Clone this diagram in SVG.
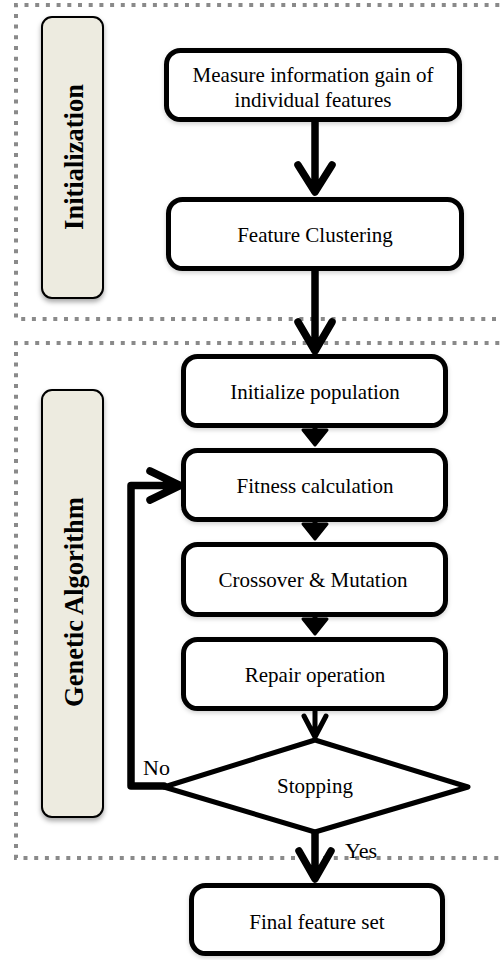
<svg xmlns="http://www.w3.org/2000/svg" width="502" height="960" viewBox="0 0 502 960">
<defs>
<filter id="sh" x="-20%" y="-20%" width="140%" height="140%">
<feDropShadow dx="0" dy="3" stdDeviation="2.5" flood-color="#000" flood-opacity="0.35"/>
</filter>
<filter id="shb" x="-10%" y="-10%" width="120%" height="130%">
<feDropShadow dx="0" dy="2" stdDeviation="2" flood-color="#000" flood-opacity="0.18"/>
</filter>
<style>
.grp{fill:none;stroke:#8a8a8a;stroke-width:4;stroke-dasharray:4 6.7}
.pill{fill:#edebe0;stroke:#000;stroke-width:2}
.box{fill:#fff;stroke:#000;stroke-width:5}
.t{font-family:"Liberation Serif","Times New Roman",serif;font-size:21px;fill:#000;text-anchor:middle}
.lbl{font-family:"Liberation Serif","Times New Roman",serif;font-size:26.5px;font-weight:bold;fill:#000;text-anchor:middle}
.yn{font-family:"Liberation Serif","Times New Roman",serif;font-size:22px;fill:#000}
.thick{fill:none;stroke:#000;stroke-width:7.5;stroke-linecap:round;stroke-linejoin:round}
.thin{fill:none;stroke:#000;stroke-width:5;stroke-linecap:round;stroke-linejoin:round}
.head{fill:#000;stroke:#000;stroke-width:3;stroke-linejoin:round}
</style>
</defs>
<rect width="502" height="960" fill="#fff"/>
<g id="group-init">
<path class="grp" d="M510,5 H16 V319 H510"/>
</g>
<g id="group-ga">
<path class="grp" d="M510,343 H16 V858 H510"/>
</g>
<g id="label-init">
<rect class="pill" x="42" y="17" width="61" height="281" rx="10" filter="url(#sh)"/>
<text class="lbl" transform="translate(83,157) rotate(-90)">Initialization</text>
</g>
<g id="label-ga">
<rect class="pill" x="42" y="390" width="61" height="427" rx="10" filter="url(#sh)"/>
<text class="lbl" transform="translate(83,602) rotate(-90)">Genetic Algorithm</text>
</g>
<g id="connectors">
<path class="thick" d="M315,122 V190 M298,165 L315,192 L332,165"/>
<path class="thick" d="M315,271 V349 M298,322 L315,351 L332,322"/>
<path class="thin" d="M315,428 V432"/>
<polygon class="head" points="303,430 327,430 315,445"/>
<path class="thin" d="M315,522 V526"/>
<polygon class="head" points="303,524 327,524 315,539"/>
<path class="thin" d="M315,617 V621"/>
<polygon class="head" points="303,619 327,619 315,634"/>
<path class="thin" d="M315,711 V737 M304,716 L315,737 L326,716"/>
<path class="thick" d="M164,786 H131 V485.5 H178 M150,471 L180,485.5 L150,500"/>
<path class="thick" d="M315,832 V877 M299,851 L315,879 L331,851"/>
<text class="yn" x="345" y="858">Yes</text>
<text class="yn" x="143" y="775">No</text>
</g>
<g id="node-measure">
<rect class="box" x="166.5" y="50.5" width="293" height="69" rx="14" filter="url(#shb)"/>
<text class="t" x="313" y="82">Measure information gain of</text>
<text class="t" x="313" y="107">individual features</text>
</g>
<g id="node-clustering">
<rect class="box" x="168.5" y="199.5" width="293" height="69" rx="14" filter="url(#shb)"/>
<text class="t" x="315" y="242">Feature Clustering</text>
</g>
<g id="node-init-pop">
<rect class="box" x="183.5" y="356.5" width="262" height="69" rx="14" filter="url(#shb)"/>
<text class="t" x="315" y="399">Initialize population</text>
</g>
<g id="node-fitness">
<rect class="box" x="183.5" y="450.5" width="262" height="69" rx="14" filter="url(#shb)"/>
<text class="t" x="315" y="493">Fitness calculation</text>
</g>
<g id="node-crossover">
<rect class="box" x="183.5" y="544.5" width="262" height="70" rx="14" filter="url(#shb)"/>
<text class="t" x="313" y="587">Crossover &amp; Mutation</text>
</g>
<g id="node-repair">
<rect class="box" x="183.5" y="639.5" width="262" height="69" rx="14" filter="url(#shb)"/>
<text class="t" x="315" y="682">Repair operation</text>
</g>
<g id="node-stopping">
<polygon class="box" points="315,740 468,787 315,832 164,787" stroke-linejoin="round"/>
<text class="t" x="315" y="793">Stopping</text>
</g>
<g id="node-final">
<rect class="box" x="191.5" y="885.5" width="251" height="68" rx="14" filter="url(#shb)"/>
<text class="t" x="317" y="929">Final feature set</text>
</g>
</svg>
